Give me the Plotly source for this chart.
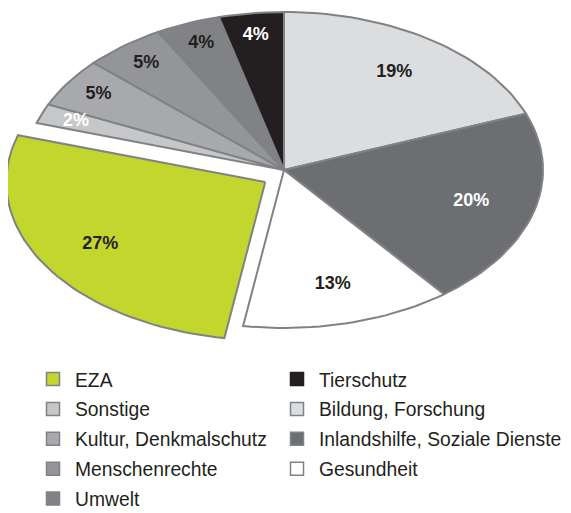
import numpy as np
import plotly.graph_objects as go

# ---- data ----
categories = ["Bildung, Forschung", "Inlandshilfe, Soziale Dienste", "Gesundheit", "EZA",
              "Sonstige", "Kultur, Denkmalschutz", "Menschenrechte", "Umwelt", "Tierschutz"]
values = [19, 20, 13, 27, 2, 5, 5, 4, 4]
legend_col1 = ["EZA", "Sonstige", "Kultur, Denkmalschutz", "Menschenrechte", "Umwelt"]
legend_col2 = ["Tierschutz", "Bildung, Forschung", "Inlandshilfe, Soziale Dienste", "Gesundheit"]
pulled = ["EZA"]

# ---- styles ----
fill_colors = {
    "Bildung, Forschung": "#dcdddf",
    "Inlandshilfe, Soziale Dienste": "#6d6e71",
    "Gesundheit": "#ffffff",
    "EZA": "#c2d62e",
    "Sonstige": "#c6c7c9",
    "Kultur, Denkmalschutz": "#a7a9ac",
    "Menschenrechte": "#939598",
    "Umwelt": "#808285",
    "Tierschutz": "#231f20",
}
label_colors = {
    "Bildung, Forschung": "#231f20",
    "Inlandshilfe, Soziale Dienste": "#ffffff",
    "Gesundheit": "#231f20",
    "EZA": "#231f20",
    "Sonstige": "#ffffff",
    "Kultur, Denkmalschutz": "#231f20",
    "Menschenrechte": "#231f20",
    "Umwelt": "#231f20",
    "Tierschutz": "#ffffff",
}
outline = "#808285"
text_dark = "#231f20"
W, H = 571, 513
page_off = 8  # browser default body margin
cx_px, cy_px = 284 - page_off, 170 - page_off
rx_px, ry_px = 259, 158
pull_x, pull_y = 0.085, 0.145

fig = go.Figure()

total = float(sum(values))
cum = np.concatenate([[0.0], np.cumsum(values)]) / total * 2 * np.pi

lab_x, lab_y, lab_t, lab_c = [], [], [], []
for i, (cat, v) in enumerate(zip(categories, values)):
    a0, a1 = cum[i], cum[i + 1]
    mid = (a0 + a1) / 2
    ox, oy = 0.0, 0.0
    if cat in pulled:
        ox, oy = pull_x * np.sin(mid), pull_y * np.cos(mid)
    n = max(8, int(200 * (a1 - a0) / (2 * np.pi)))
    th = np.linspace(a0, a1, n)
    xs = np.concatenate([[0.0], np.sin(th), [0.0]]) + ox
    ys = np.concatenate([[0.0], np.cos(th), [0.0]]) + oy
    fig.add_trace(go.Scatter(
        x=xs, y=ys, mode="lines", fill="toself",
        fillcolor=fill_colors[cat],
        line=dict(color=outline, width=2),
        showlegend=False, hoverinfo="skip",
    ))
    r = 0.75 if v >= 10 else 0.86
    lab_x.append(r * np.sin(mid) + ox)
    lab_y.append(r * np.cos(mid) + oy)
    lab_t.append(f"{v}%")
    lab_c.append(label_colors[cat])

fig.add_trace(go.Scatter(
    x=lab_x, y=lab_y, mode="text", text=lab_t,
    textfont=dict(family="Liberation Sans, Arial, sans-serif", size=18,
                  color=lab_c, weight="bold"),
    showlegend=False, hoverinfo="skip",
))

def add_legend_item(cat, legend_name):
    border = "#231f20" if cat == "Tierschutz" else outline
    fig.add_trace(go.Scatter(
        x=[None], y=[None], mode="markers", name=cat,
        marker=dict(symbol="square", size=13, color=fill_colors[cat],
                    line=dict(color=border, width=1.5)),
        legend=legend_name, legendgroup=cat,
    ))

for cat in legend_col1:
    add_legend_item(cat, "legend")
for cat in legend_col2:
    add_legend_item(cat, "legend2")

leg_font = dict(family="Liberation Sans, Arial, sans-serif", size=19.3, color=text_dark)
leg_common = dict(font=leg_font, bgcolor="rgba(0,0,0,0)", tracegroupgap=1.8,
                  xanchor="left", yanchor="top", orientation="v", itemwidth=34)

x0 = -cx_px / rx_px
x1 = x0 + W / rx_px
ytop = cy_px / ry_px
ybot = ytop - H / ry_px

leg_top = 360 - page_off
fig.update_layout(
    width=W, height=H,
    margin=dict(l=0, r=0, t=0, b=0, autoexpand=False),
    paper_bgcolor="white", plot_bgcolor="white",
    xaxis=dict(range=[x0, x1], visible=False, fixedrange=True),
    yaxis=dict(range=[ybot, ytop], visible=False, fixedrange=True),
    legend=dict(x=(31 - page_off) / W, y=1 - leg_top / H, **leg_common),
    legend2=dict(x=(275 - page_off) / W, y=1 - leg_top / H, **leg_common),
    showlegend=True,
)

fig.write_html("out.html")
